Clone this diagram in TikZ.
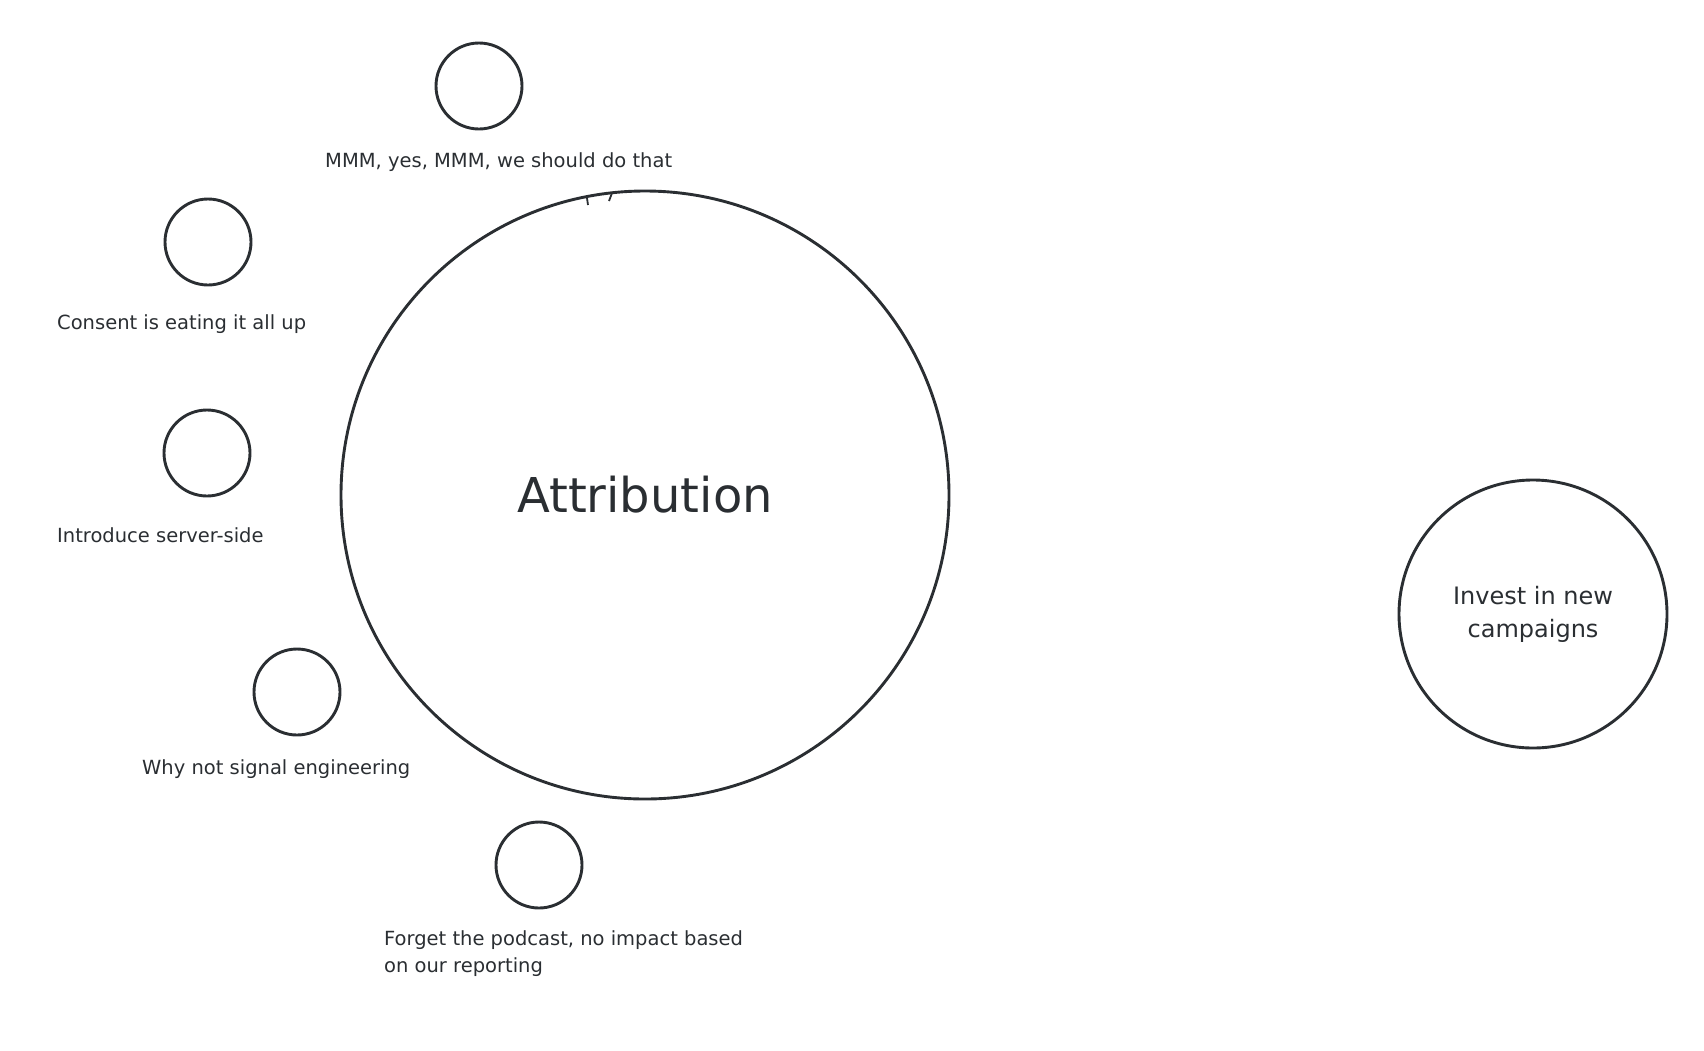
\documentclass[tikz,border=0pt]{standalone}
\usepackage{fontspec}
\setmainfont{DejaVu Sans}
\definecolor{ink}{RGB}{42,46,50}

\begin{document}
\begin{tikzpicture}[x=1pt,y=-1pt,
    big node/.style={circle,draw=ink,line width=2.9pt,minimum size=608pt,inner sep=0pt,text=ink,font=\fontsize{48}{56}\selectfont},
    idea node/.style={circle,draw=ink,line width=2.9pt,minimum size=86pt,inner sep=0pt},
    goal node/.style={circle,draw=ink,line width=2.9pt,minimum size=268pt,inner sep=0pt,align=center,text=ink,font=\fontsize{24}{33}\selectfont},
    note/.style={anchor=west,inner sep=0pt,align=left,text=ink,font=\fontsize{19.5}{27}\selectfont}]

\useasboundingbox (0,0) rectangle (1704,1050);

% main topic
\node[big node] (attr) at (645,495) {Attribution};

% ideas around it
\node[idea node] (mmm) at (479,86) {};
\node[idea node] (consent) at (208,242) {};
\node[idea node] (server) at (207,453) {};
\node[idea node] (signal) at (297,692) {};
\node[idea node] (podcast) at (539,865) {};

\node[note] (mmm text) at (325,162) {MMM, yes, MMM, we should do that};
\node[note] (consent text) at (57,324) {Consent is eating it all up};
\node[note] (server text) at (57,535) {Introduce server-side};
\node[note] (signal text) at (142,769) {Why not signal engineering};
\node[note] (podcast text) at (384,954) {Forget the podcast, no impact based\\on our reporting};

% goal on the right
\node[goal node] (invest) at (1533,614) {Invest in new\\campaigns};

% little pen marks on the big circle
\draw[ink,line width=1.8pt] (587,198) -- (588,205);
\draw[ink,line width=1.8pt] (612,193) -- (609,201);

\end{tikzpicture}
\end{document}
